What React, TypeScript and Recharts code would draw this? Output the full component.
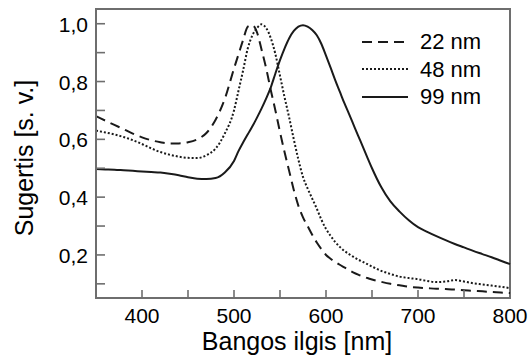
import React from 'react';
import { LineChart, Line, XAxis, YAxis, Label, ReferenceArea } from 'recharts';

const wavelengths = [
  350, 360, 370, 380, 390, 400, 410, 420, 430, 440, 450, 460, 470, 480, 490, 500,
  505, 510, 515, 520, 525, 530, 535, 540, 545, 550, 555, 560, 565, 570, 575, 580,
  585, 590, 595, 600, 605, 610, 615, 620, 625, 630, 635, 640, 645, 650,
  660, 670, 680, 690, 700, 710, 720, 730, 740, 750, 760, 770, 780, 790, 800,
];

const s22 = [
  0.68, 0.665, 0.65, 0.635, 0.62, 0.607, 0.597, 0.59, 0.586, 0.586, 0.59, 0.6, 0.622, 0.668, 0.74, 0.845,
  0.895, 0.945, 0.99, 0.995, 0.97, 0.91, 0.845, 0.77, 0.7, 0.625, 0.555, 0.49, 0.425, 0.37, 0.33, 0.3,
  0.27, 0.243, 0.22, 0.2, 0.187, 0.176, 0.166, 0.157, 0.148, 0.139, 0.132, 0.126, 0.12, 0.115,
  0.107, 0.1, 0.095, 0.09, 0.087, 0.085, 0.083, 0.082, 0.08, 0.078, 0.076, 0.074, 0.072, 0.07, 0.068,
];

const s48 = [
  0.63, 0.624, 0.617, 0.608, 0.597, 0.584, 0.569, 0.556, 0.547, 0.54, 0.536, 0.535, 0.545, 0.568, 0.62, 0.7,
  0.77, 0.84, 0.915, 0.96, 0.985, 0.998, 0.985, 0.95, 0.895, 0.82, 0.745, 0.675, 0.6, 0.53, 0.47, 0.43,
  0.395, 0.36, 0.322, 0.29, 0.266, 0.245, 0.228, 0.214, 0.203, 0.193, 0.184, 0.176, 0.168, 0.16,
  0.145, 0.134, 0.125, 0.12, 0.116, 0.11, 0.106, 0.108, 0.113, 0.108, 0.102, 0.098, 0.094, 0.09, 0.085,
];

const s99 = [
  0.497, 0.496, 0.495, 0.493, 0.491, 0.489, 0.487, 0.485, 0.481, 0.476, 0.469, 0.464, 0.463, 0.466, 0.485, 0.525,
  0.56, 0.59, 0.618, 0.645, 0.675, 0.707, 0.742, 0.78, 0.828, 0.874, 0.915, 0.95, 0.975, 0.99, 0.995, 0.99,
  0.978, 0.96, 0.93, 0.89, 0.848, 0.805, 0.765, 0.725, 0.688, 0.65, 0.612, 0.575, 0.537, 0.5,
  0.435, 0.385, 0.35, 0.32, 0.296, 0.28, 0.265, 0.251, 0.238, 0.226, 0.214, 0.203, 0.192, 0.18, 0.168,
];

const seriesNames = ['22 nm', '48 nm', '99 nm'];
const seriesDash = ['10 6', '2 2', undefined];

const xTicks = [400, 450, 500, 550, 600, 650, 700, 750, 800];
const xLabeled = [400, 500, 600, 700, 800];
const yTicks = [0.1, 0.2, 0.3, 0.4, 0.5, 0.6, 0.7, 0.8, 0.9, 1.0];
const yLabeled = [0.2, 0.4, 0.6, 0.8, 1.0];
const xDomain = [350, 800];
const yDomain = [0.051, 1.051];

const xTitle = 'Bangos ilgis [nm]';
const yTitle = 'Sugertis [s. v.]';

const data = wavelengths.map((w, i) => ({ wl: w, a: s22[i], b: s48[i], c: s99[i] }));

const FONT = '"Liberation Sans", Arial, sans-serif';
const FRAME = '#6e6e6e';

const XTick = (props: any) => {
  const { x, y, payload } = props;
  const v = payload.value;
  const show = xLabeled.some((t) => Math.abs(t - v) < 1e-6);
  return (
    <g>
      {v < 800 && <path d={`M${x},${y}L${x},${y - 8}`} stroke={FRAME} strokeWidth={1.6} fill="none" />}
      {show && (
        <text x={x} y={y + 25} textAnchor="middle" fontSize={21} fontFamily={FONT} fill="#000">
          {v}
        </text>
      )}
    </g>
  );
};

const YTick = (props: any) => {
  const { x, y, payload } = props;
  const v = payload.value;
  const show = yLabeled.some((t) => Math.abs(t - v) < 1e-6);
  return (
    <g>
      <path d={`M${x},${y}L${x + 9},${y}`} stroke={FRAME} strokeWidth={1.6} fill="none" />
      {show && (
        <text x={x - 8} y={y + 8} textAnchor="end" fontSize={21} fontFamily={FONT} fill="#000">
          {v.toFixed(1).replace('.', ',')}
        </text>
      )}
    </g>
  );
};

export default function App() {
  return (
    <div style={{ position: 'absolute', left: 0, top: 0, width: 530, height: 360, background: '#fff' }}>
      <LineChart width={530} height={360} data={data} margin={{ top: 9, right: 20, left: 0, bottom: 0 }}>
        <XAxis
          dataKey="wl"
          type="number"
          domain={xDomain}
          ticks={xTicks}
          interval={0}
          height={62}
          tickSize={0}
          tickMargin={0}
          tickLine={false}
          axisLine={{ stroke: FRAME, strokeWidth: 2 }}
          tick={<XTick />}
        >
          <Label
            content={(p: any) => {
              const vb = p.viewBox;
              return (
                <text x={vb.x + vb.width / 2 - 6} y={vb.y + 52} textAnchor="middle" fontSize={25} fontFamily={FONT} fill="#000">
                  {xTitle}
                </text>
              );
            }}
          />
        </XAxis>
        <YAxis
          type="number"
          domain={yDomain}
          ticks={yTicks}
          interval={0}
          width={96}
          tickSize={0}
          tickMargin={0}
          tickLine={false}
          axisLine={{ stroke: FRAME, strokeWidth: 2 }}
          tick={<YTick />}
          allowDataOverflow
        >
          <Label
            content={(p: any) => {
              const vb = p.viewBox;
              const cx = 33;
              const cy = vb.y + 149;
              return (
                <text x={cx} y={cy} transform={`rotate(-90, ${cx}, ${cy})`} textAnchor="middle" fontSize={25} fontFamily={FONT} fill="#000">
                  {yTitle}
                </text>
              );
            }}
          />
        </YAxis>
        <ReferenceArea
          x1={xDomain[0]}
          x2={xDomain[1]}
          y1={yDomain[0]}
          y2={yDomain[1]}
          fill="none"
          stroke={FRAME}
          strokeWidth={2}
          ifOverflow="visible"
        />
        <Line type="monotone" dataKey="a" stroke="#1a1a1a" strokeWidth={2} strokeDasharray={seriesDash[0]} dot={false} isAnimationActive={false} />
        <Line type="monotone" dataKey="b" stroke="#1a1a1a" strokeWidth={2} strokeDasharray={seriesDash[1]} dot={false} isAnimationActive={false} />
        <Line type="monotone" dataKey="c" stroke="#1a1a1a" strokeWidth={2} strokeDasharray={seriesDash[2]} dot={false} isAnimationActive={false} />
      </LineChart>
      <div style={{ position: 'absolute', left: 360, top: 28, fontFamily: FONT, fontSize: 22, lineHeight: '27.5px', color: '#000' }}>
        {seriesNames.map((n, i) => (
          <div key={n} style={{ display: 'flex', alignItems: 'center', height: 27.5 }}>
            <svg width={50} height={10} style={{ marginRight: 10 }}>
              <line x1={2} x2={48} y1={5} y2={5} stroke="#1a1a1a" strokeWidth={2} strokeDasharray={seriesDash[i]} />
            </svg>
            <span>{n}</span>
          </div>
        ))}
      </div>
    </div>
  );
}
